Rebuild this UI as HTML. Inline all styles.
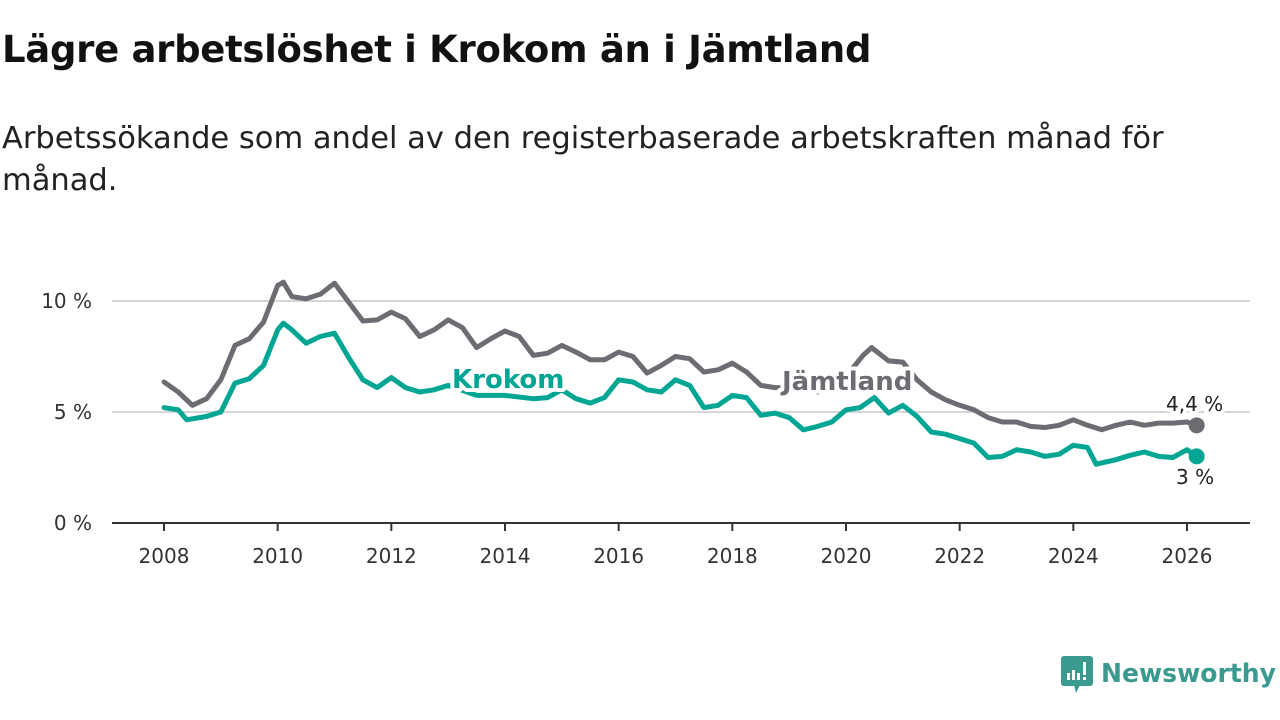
<!DOCTYPE html>
<html><head><meta charset="utf-8"><style>
body{margin:0;width:1280px;height:720px;background:#fff;font-family:"DejaVu Sans","Liberation Sans",sans-serif;overflow:hidden;position:relative}
#title{position:absolute;left:2px;top:28px;font-size:37px;font-weight:bold;color:#111;letter-spacing:-0.3px}
#sub{position:absolute;left:2px;top:118px;font-size:30.5px;line-height:42px;color:#222;width:1200px}
#logo{position:absolute;left:1060px;top:655px}
</style></head><body>
<div id="title">Lägre arbetslöshet i Krokom än i Jämtland</div>
<div id="sub">Arbetssökande som andel av den registerbaserade arbetskraften månad för månad.</div>
<svg id="chart" width="1280" height="720" style="position:absolute;left:0;top:0"></svg>
<div id="logo">
<svg width="220" height="42"><rect x="1" y="1" width="32" height="30" rx="3" fill="#3a9a90"/><polygon points="14,30 20,30 16,38" fill="#3a9a90"/>
<rect x="7" y="18" width="3" height="7" fill="#fff"/><rect x="12" y="15" width="3" height="10" fill="#fff"/><rect x="17" y="18" width="3" height="7" fill="#fff"/><rect x="23" y="7" width="3" height="13" fill="#fff"/><rect x="23" y="22" width="3" height="3" fill="#fff"/>
<text x="41" y="27" font-size="26" font-weight="bold" font-family="DejaVu Sans, sans-serif" fill="#3a9a90" textLength="175" lengthAdjust="spacingAndGlyphs">Newsworthy</text></svg></div>
<script>
const jYears=[2008,2008.25,2008.5,2008.75,2009,2009.25,2009.5,2009.75,2010,2010.1,2010.25,2010.5,2010.75,2011,2011.25,2011.5,2011.75,2012,2012.25,2012.5,2012.75,2013,2013.25,2013.5,2013.75,2014,2014.25,2014.5,2014.75,2015,2015.25,2015.5,2015.75,2016,2016.25,2016.5,2016.75,2017,2017.25,2017.5,2017.75,2018,2018.25,2018.5,2018.75,2019,2019.25,2019.5,2019.75,2020,2020.3,2020.45,2020.75,2021,2021.25,2021.5,2021.75,2022,2022.25,2022.5,2022.75,2023,2023.25,2023.5,2023.75,2024,2024.25,2024.5,2024.75,2025,2025.25,2025.5,2025.75,2026,2026.17];
const jVals=[6.35,5.9,5.3,5.6,6.45,8.0,8.3,9.05,10.7,10.85,10.2,10.1,10.3,10.8,9.95,9.1,9.15,9.5,9.2,8.4,8.7,9.15,8.8,7.9,8.3,8.65,8.4,7.55,7.65,8.0,7.7,7.35,7.35,7.7,7.5,6.75,7.1,7.5,7.4,6.8,6.9,7.2,6.8,6.2,6.1,6.1,6.1,5.9,6.3,6.6,7.55,7.9,7.3,7.25,6.45,5.9,5.55,5.3,5.1,4.75,4.55,4.55,4.35,4.3,4.4,4.65,4.4,4.2,4.4,4.55,4.4,4.5,4.5,4.55,4.4];
const kYears=[2008,2008.25,2008.4,2008.75,2009,2009.25,2009.5,2009.75,2010,2010.1,2010.25,2010.5,2010.75,2011,2011.25,2011.5,2011.75,2012,2012.25,2012.5,2012.75,2013,2013.5,2014,2014.5,2014.75,2015,2015.25,2015.5,2015.75,2016,2016.25,2016.5,2016.75,2017,2017.25,2017.5,2017.75,2018,2018.25,2018.5,2018.75,2019,2019.25,2019.5,2019.75,2020,2020.25,2020.5,2020.75,2021,2021.25,2021.5,2021.75,2022,2022.25,2022.5,2022.75,2023,2023.25,2023.5,2023.75,2024,2024.25,2024.4,2024.75,2025,2025.25,2025.5,2025.75,2026,2026.17];
const kVals=[5.2,5.1,4.65,4.8,5.0,6.3,6.5,7.1,8.7,9.0,8.7,8.1,8.4,8.55,7.45,6.45,6.1,6.55,6.1,5.9,6.0,6.2,5.75,5.75,5.6,5.65,6.0,5.6,5.4,5.65,6.45,6.35,6.0,5.9,6.45,6.2,5.2,5.3,5.75,5.65,4.85,4.95,4.75,4.2,4.35,4.55,5.1,5.2,5.65,4.95,5.3,4.8,4.1,4.0,3.8,3.6,2.95,3.0,3.3,3.2,3.0,3.1,3.5,3.4,2.65,2.85,3.05,3.2,3.0,2.95,3.3,3.0];
const yTicks=[0,5,10];
const yTickLabels=["0 %","5 %","10 %"];
const xTicks=[2008,2010,2012,2014,2016,2018,2020,2022,2024,2026];
const NS="http://www.w3.org/2000/svg";
const svg=document.getElementById('chart');
const X=v=>164+(v-2008)*(1187-164)/18;
const Y=v=>523-v*22.2;
function el(t,a,p){const e=document.createElementNS(NS,t);for(const k in a)e.setAttribute(k,a[k]);(p||svg).appendChild(e);return e;}
yTicks.forEach((t,i)=>{
 if(t>0){const g=el('line',{x1:112,x2:1250,y1:Y(t),y2:Y(t),stroke:'#d6d6d6','stroke-width':2});
 
 }
 const l=el('text',{x:92,y:Y(t)+7,'text-anchor':'end','font-size':20,fill:'#333'});l.textContent=yTickLabels[i];
 
 
});
const ax=el('line',{x1:112,x2:1250,y1:523,y2:523,stroke:'#333','stroke-width':2});


xTicks.forEach(t=>{
 el('line',{x1:X(t),x2:X(t),y1:523,y2:531,stroke:'#333','stroke-width':2});
 const l=el('text',{x:X(t),y:563,'text-anchor':'middle','font-size':20,fill:'#333'});l.textContent=t;
 
 
});
function line(ys,vs,c,name){
 const d=ys.map((y,i)=>(i?'L':'M')+X(y).toFixed(1)+','+Y(vs[i]).toFixed(1)).join('');
 const p=el('path',{d:d,fill:'none',stroke:c,'stroke-width':5,'stroke-linejoin':'round','stroke-linecap':'round'});
 
 
 const n=ys.length-1;
 const dot=el('circle',{cx:X(ys[n]),cy:Y(vs[n]),r:8,fill:c});
 
 
}
line(jYears,jVals,'#6d6c72','jamtland-line');
line(kYears,kVals,'#00a594','krokom-line');
function lab(txt,x,y,c,name,size,weight){
 const t=el('text',{x:x,y:y,'font-size':size,'font-weight':weight,fill:c,stroke:'#fff','stroke-width':8,'paint-order':'stroke','stroke-linejoin':'round'});
 t.textContent=txt;
 
 
}
lab('Krokom',452,388,'#00a594','krokom-label',26,'bold');
lab('Jämtland',782,390,'#6d6c72','jamtland-label',26,'bold');
lab('4,4 %',1166,411,'#222','jamtland-end-value',20,'normal');
lab('3 %',1176,484,'#222','krokom-end-value',20,'normal');
</script>
</body></html>
